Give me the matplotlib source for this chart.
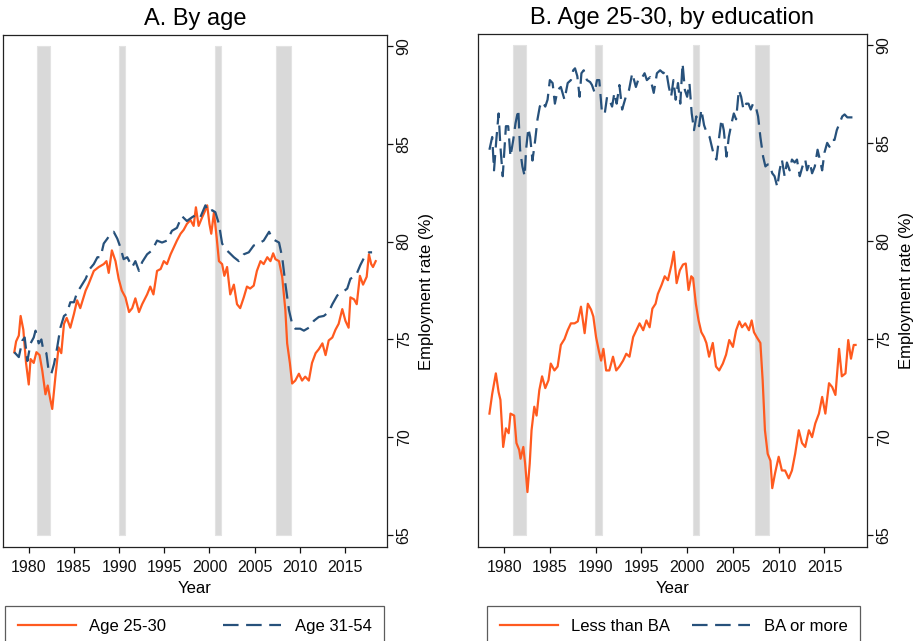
import matplotlib
matplotlib.use("Agg")
import matplotlib.pyplot as plt
import numpy as np

plt.rcParams['font.family'] = ['Liberation Sans', 'DejaVu Sans']

# ---------------- data ----------------
age2530_x = [1978.4, 1978.6, 1978.9, 1979.1, 1979.4, 1979.7, 1980.0, 1980.2, 1980.55, 1980.85,
             1981.2, 1981.5, 1981.85, 1982.1, 1982.4, 1982.6, 1982.95, 1983.3, 1983.6, 1983.9,
             1984.2, 1984.6, 1985.0, 1985.35, 1985.7, 1986.3, 1986.6, 1987.2, 1987.75, 1988.3,
             1988.6, 1988.85, 1989.2, 1989.6, 1989.95, 1990.3, 1990.7, 1991.1, 1991.45, 1991.8,
             1992.2, 1992.55, 1993.1, 1993.45, 1993.8, 1994.2, 1994.6, 1994.95, 1995.3, 1995.7,
             1996.05, 1996.4, 1996.8, 1997.15, 1997.5, 1997.9, 1998.25, 1998.5, 1998.8, 1999.2,
             1999.45, 1999.75, 2000.0, 2000.2, 2000.5, 2000.8, 2001.05, 2001.4, 2001.65, 2001.95,
             2002.3, 2002.7, 2003.05, 2003.4, 2003.8, 2004.15, 2004.5, 2004.9, 2005.25, 2005.65,
             2006.0, 2006.4, 2006.75, 2007.05, 2007.3, 2007.7, 2008.05, 2008.4, 2008.6, 2008.9,
             2009.15, 2009.5, 2009.9, 2010.25, 2010.6, 2011.0, 2011.35, 2011.75, 2012.1, 2012.5,
             2012.85, 2013.2, 2013.6, 2013.95, 2014.3, 2014.7, 2015.05, 2015.4, 2015.6, 2016.0,
             2016.3, 2016.65, 2017.0, 2017.4, 2017.65, 2017.9, 2018.1, 2018.4]
age2530_y = [74.35, 74.9, 75.2, 76.2, 75.5, 73.8, 72.7, 74.0, 73.8, 74.35,
             74.2, 73.4, 72.2, 72.65, 71.9, 71.45, 73.1, 74.6, 74.3, 75.8,
             76.1, 75.6, 76.3, 77.0, 76.6, 77.5, 77.8, 78.5, 78.7, 78.85,
             79.0, 78.4, 79.55, 79.0, 78.1, 77.5, 77.15, 76.4, 76.6, 77.1,
             76.4, 76.8, 77.3, 77.7, 77.3, 78.5, 78.6, 79.0, 78.85, 79.35,
             79.7, 80.05, 80.4, 80.6, 80.9, 81.1, 80.8, 81.75, 80.8, 81.25,
             81.5, 81.85, 80.9, 80.4, 81.5, 80.2, 79.0, 78.85, 78.25, 78.7,
             77.3, 77.8, 76.8, 76.6, 77.15, 77.7, 77.6, 77.75, 78.5, 79.0,
             78.85, 79.2, 79.0, 79.4, 79.1, 79.0, 78.2, 76.5, 74.8, 73.8,
             72.75, 72.9, 73.25, 72.9, 73.1, 72.9, 73.8, 74.3, 74.5, 74.8,
             74.2, 74.95, 75.1, 75.5, 75.8, 76.55, 75.95, 75.6, 77.15, 77.05,
             76.8, 78.25, 77.8, 78.2, 79.35, 78.85, 78.7, 79.0]

age3154_x = [1978.4, 1978.9, 1979.3, 1979.55, 1979.85, 1980.2, 1980.55, 1980.75, 1981.1, 1981.4,
             1981.65, 1981.95, 1982.2, 1982.5, 1982.8, 1983.15, 1983.5, 1983.9, 1984.2, 1984.6,
             1985.0, 1985.35, 1985.7, 1986.3, 1986.75, 1987.2, 1987.6, 1987.95, 1988.3, 1988.7,
             1989.05, 1989.4, 1989.8, 1990.15, 1990.5, 1990.9, 1991.45, 1991.8, 1992.2, 1992.55,
             1993.1, 1993.65, 1994.2, 1994.75, 1995.3, 1995.85, 1996.4, 1996.95, 1997.5, 1998.1,
             1998.65, 1999.0, 1999.55, 1999.9, 2000.3, 2000.65, 2001.05, 2001.4, 2001.8, 2002.15,
             2002.7, 2003.25, 2003.8, 2004.35, 2004.9, 2005.45, 2006.0, 2006.6, 2006.95, 2007.3,
             2007.7, 2008.05, 2008.4, 2008.8, 2009.15, 2009.5, 2010.05, 2010.45, 2011.0, 2011.55,
             2012.1, 2012.65, 2013.2, 2013.6, 2014.15, 2014.7, 2015.25, 2015.6, 2016.2, 2016.7,
             2017.25, 2017.65, 2018.0]
age3154_y = [74.35, 74.1, 74.95, 75.1, 73.9, 74.8, 75.1, 75.45, 74.8, 75.0,
             74.35, 74.3, 73.4, 73.25, 73.75, 74.6, 75.6, 76.2, 76.3, 76.9,
             76.9, 77.4, 77.65, 78.1, 78.6, 78.85, 79.2, 79.2, 79.9, 80.15,
             80.4, 80.5, 80.15, 79.7, 79.1, 79.2, 78.7, 79.0, 78.5, 78.95,
             79.35, 79.55, 80.05, 79.95, 80.05, 80.55, 80.7, 81.3, 81.05, 81.25,
             81.4, 81.25, 81.85, 81.5, 81.6, 81.5, 80.9, 79.9, 79.6, 79.45,
             79.2, 79.0, 79.35, 79.45, 79.8, 79.9, 80.05, 80.5, 80.15, 80.05,
             79.95, 79.2, 77.85, 76.5, 75.8, 75.55, 75.55, 75.45, 75.6, 75.95,
             76.15, 76.2, 76.4, 76.8, 77.25, 77.4, 77.6, 78.1, 78.25, 78.8,
             79.3, 79.45, 79.45]

lessba_x = [1978.4, 1978.7, 1979.1, 1979.4, 1979.6, 1979.9, 1980.2, 1980.5, 1980.7, 1981.1,
            1981.35, 1981.65, 1981.8, 1982.1, 1982.3, 1982.55, 1982.8, 1983.0, 1983.3, 1983.55,
            1983.85, 1984.15, 1984.5, 1984.85, 1985.1, 1985.5, 1985.85, 1986.2, 1986.6, 1986.95,
            1987.3, 1987.7, 1988.05, 1988.4, 1988.8, 1989.15, 1989.5, 1989.75, 1990.05, 1990.35,
            1990.6, 1990.85, 1991.15, 1991.5, 1991.9, 1992.25, 1992.6, 1993.0, 1993.35, 1993.7,
            1994.1, 1994.45, 1994.8, 1995.2, 1995.55, 1995.9, 1996.2, 1996.55, 1996.8, 1997.2,
            1997.55, 1997.9, 1998.3, 1998.55, 1998.85, 1999.2, 1999.55, 1999.85, 2000.15, 2000.45,
            2000.65, 2000.95, 2001.25, 2001.55, 2001.85, 2002.1, 2002.4, 2002.8, 2003.15, 2003.5,
            2003.9, 2004.25, 2004.6, 2005.0, 2005.35, 2005.7, 2006.0, 2006.35, 2006.75, 2007.05,
            2007.3, 2007.6, 2008.0, 2008.25, 2008.5, 2008.8, 2009.1, 2009.3, 2009.6, 2010.0,
            2010.35, 2010.7, 2011.1, 2011.45, 2011.8, 2012.2, 2012.55, 2012.9, 2013.3, 2013.65,
            2014.0, 2014.4, 2014.75, 2015.1, 2015.5, 2015.85, 2016.2, 2016.6, 2016.9, 2017.3,
            2017.6, 2017.9, 2018.2, 2018.4]
lessba_y = [71.2, 72.2, 73.25, 72.3, 71.9, 69.5, 70.45, 70.2, 71.2, 71.1,
            69.7, 69.35, 68.9, 69.5, 68.65, 67.2, 68.65, 70.35, 71.55, 71.1,
            72.4, 73.1, 72.5, 72.9, 73.75, 73.4, 73.6, 74.7, 75.0, 75.45,
            75.8, 75.8, 75.9, 76.65, 75.3, 76.8, 76.5, 76.15, 75.1, 74.4,
            73.9, 74.5, 73.4, 73.4, 74.1, 73.4, 73.6, 73.9, 74.25, 74.1,
            75.1, 75.45, 75.8, 75.45, 75.95, 75.6, 76.55, 76.8, 77.3, 77.75,
            78.2, 78.0, 78.8, 79.45, 77.85, 78.5, 78.8, 78.85, 77.5, 78.2,
            78.1, 76.8, 75.95, 75.35, 75.1, 74.8, 74.1, 74.8, 73.6, 73.4,
            73.75, 74.2, 74.95, 74.6, 75.45, 75.9, 75.6, 75.8, 75.45, 75.95,
            75.35, 75.1, 74.8, 72.9, 70.35, 69.15, 68.8, 67.4, 68.15, 69.0,
            68.3, 68.3, 67.9, 68.3, 69.15, 70.35, 69.7, 69.5, 70.35, 70.0,
            70.7, 71.2, 72.05, 71.2, 72.75, 72.55, 72.15, 74.5, 73.1, 73.25,
            74.95, 74.0, 74.7, 74.7]

baplus_x = [1978.4, 1978.7, 1978.9, 1979.15, 1979.4, 1979.6, 1979.85, 1980.2, 1980.45, 1980.7,
            1981.0, 1981.25, 1981.55, 1981.75, 1982.0, 1982.25, 1982.4, 1982.65, 1982.85, 1983.1,
            1983.4, 1983.65, 1983.9, 1984.2, 1984.5, 1984.75, 1985.0, 1985.3, 1985.55, 1985.85,
            1986.2, 1986.6, 1986.95, 1987.3, 1987.55, 1987.75, 1988.0, 1988.25, 1988.45, 1988.7,
            1989.05, 1989.4, 1989.6, 1989.9, 1990.15, 1990.4, 1990.7, 1991.0, 1991.25, 1991.5,
            1991.8, 1992.05, 1992.3, 1992.6, 1992.9, 1993.3, 1993.65, 1994.0, 1994.4, 1994.75,
            1995.1, 1995.35, 1995.6, 1995.95, 1996.35, 1996.7, 1997.05, 1997.4, 1997.7, 1998.0,
            1998.25, 1998.5, 1998.75, 1999.0, 1999.25, 1999.5, 1999.75, 2000.0, 2000.25, 2000.5,
            2000.75, 2001.0, 2001.3, 2001.55, 2001.85, 2002.15, 2002.45, 2002.7, 2002.95, 2003.2,
            2003.5, 2003.75, 2004.0, 2004.3, 2004.55, 2004.85, 2005.1, 2005.35, 2005.65, 2005.9,
            2006.15, 2006.45, 2006.7, 2006.95, 2007.2, 2007.5, 2007.75, 2008.0, 2008.3, 2008.55,
            2008.8, 2009.0, 2009.3, 2009.55, 2009.85, 2010.1, 2010.35, 2010.65, 2010.9, 2011.2,
            2011.45, 2011.75, 2012.0, 2012.3, 2012.6, 2012.9, 2013.1, 2013.4, 2013.65, 2013.95,
            2014.25, 2014.5, 2014.75, 2015.0, 2015.3, 2015.55, 2015.8, 2016.1, 2016.35, 2016.65,
            2016.95, 2017.2, 2017.5, 2017.75, 2018.0, 2018.4]
baplus_y = [84.65, 85.3, 83.6, 85.15, 86.5, 84.8, 83.3, 85.85, 85.85, 84.3,
            85.15, 86.0, 86.7, 84.65, 83.8, 83.3, 84.65, 85.75, 85.3, 84.1,
            85.15, 86.2, 86.85, 87.1, 86.85, 87.2, 88.2, 88.05, 87.0, 87.7,
            87.85, 87.2, 88.05, 88.2, 88.7, 88.8, 88.4, 87.35, 88.55, 88.7,
            88.2, 88.1, 87.95, 87.55, 88.2, 88.2, 86.5, 86.5, 87.35, 87.2,
            86.85, 87.55, 87.0, 87.95, 86.7, 87.35, 87.7, 88.55, 87.85, 88.35,
            88.35, 88.55, 88.2, 88.35, 87.55, 88.55, 88.7, 88.55, 88.7, 87.85,
            87.35, 88.2, 87.2, 88.05, 87.0, 89.05, 87.7, 87.35, 88.05, 86.5,
            85.65, 86.35, 85.85, 86.7, 85.9, 85.5, 85.3, 84.8, 84.3, 84.15,
            85.3, 86.2, 85.65, 84.3, 85.3, 86.0, 86.5, 86.2, 87.7, 87.35,
            86.7, 87.0, 87.0, 86.7, 87.0, 86.85, 86.35, 85.3, 84.3, 83.8,
            83.9, 83.9, 83.45, 83.3, 82.75, 83.6, 84.15, 83.3, 84.0, 83.6,
            84.15, 84.0, 84.15, 83.3, 83.8, 84.15, 83.6, 84.0, 83.45, 83.8,
            84.65, 84.15, 83.6, 84.5, 85.0, 84.8, 85.15, 85.15, 85.65, 86.0,
            86.35, 86.45, 86.3, 86.3, 86.3, 86.3]

recession_start = [1980.92, 1989.96, 2000.66, 2007.42]
recession_end = [1982.38, 1990.7, 2001.33, 2008.97]

yticks = [65, 70, 75, 80, 85, 90]
xticks = [1980, 1985, 1990, 1995, 2000, 2005, 2010, 2015]

panels = [
    ("A. By age", age2530_x, age2530_y, "Age 25-30", age3154_x, age3154_y, "Age 31-54"),
    ("B. Age 25-30, by education", lessba_x, lessba_y, "Less than BA", baplus_x, baplus_y, "BA or more"),
]

ORANGE = '#ff5a1f'
NAVY = '#27517b'
GREY = '#d9d9d9'

W, H = 913, 641
fig = plt.figure(figsize=(W / 100, H / 100), dpi=100)
fig.patch.set_facecolor('white')

axes_px = [(3, 35, 387, 547), (478, 34, 867, 547)]
legend_px = [(5, 607, 384), (487, 607, 860)]

for (title, x1, y1, l1, x2, y2, l2), (xl, yt, xr, yb), (lx0, lyt, lx1) in zip(panels, axes_px, legend_px):
    ax = fig.add_axes([xl / W, 1 - yb / H, (xr - xl) / W, (yb - yt) / H])
    for s, e in zip(recession_start, recession_end):
        ax.fill_between([s, e], 65, 90, color=GREY, edgecolor='#e3e3e3', linewidth=0.8, zorder=1)
    h1, = ax.plot(x1, y1, color=ORANGE, lw=1.6, zorder=3, label=l1)
    h2, = ax.plot(x2, y2, color=NAVY, lw=1.6, dashes=(7, 3.4), zorder=3, label=l2)
    ax.set_xlim(1977.15, 2019.65)
    ax.set_ylim(64.4, 90.55)
    ax.set_xticks(xticks)
    ax.set_yticks(yticks)
    ax.yaxis.tick_right()
    ax.yaxis.set_label_position('right')
    ax.tick_params(axis='both', direction='out', length=4, width=0.9, labelsize=11.5, colors='#111111')
    ax.tick_params(axis='x', pad=5)
    ax.tick_params(axis='y', pad=3)
    for lab in ax.get_yticklabels():
        lab.set_rotation(90)
        lab.set_va('center')
    ax.set_xlabel("Year", fontsize=12, labelpad=5)
    ax.set_ylabel("Employment rate (%)", fontsize=12, labelpad=5)
    ax.set_title(title, fontsize=17, pad=7)
    for sp in ax.spines.values():
        sp.set_linewidth(0.9)
        sp.set_color('#222222')

    leg = fig.legend(handles=[h1, h2], loc='upper left',
                     bbox_to_anchor=(lx0 / W, 1 - lyt / H, (lx1 - lx0) / W, 0.001),
                     mode='expand', ncol=2, fontsize=12, frameon=True, fancybox=False,
                     handlelength=3.5, handletextpad=0.8, borderpad=0.75, borderaxespad=0,
                     columnspacing=2.0)
    leg.get_frame().set_edgecolor('#333333')
    leg.get_frame().set_linewidth(0.9)

fig.savefig("out.png", dpi=100)
